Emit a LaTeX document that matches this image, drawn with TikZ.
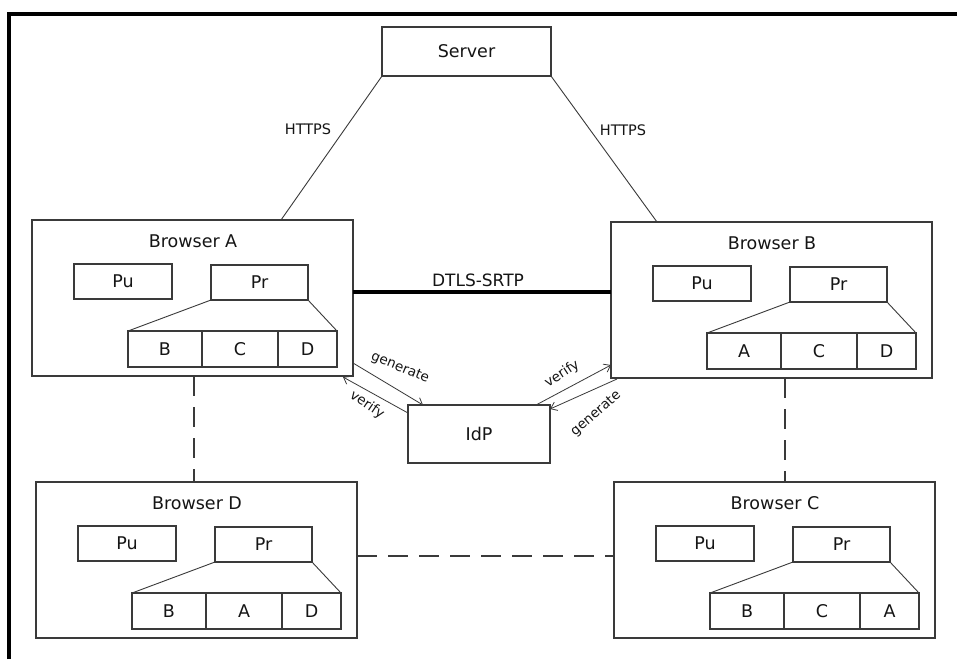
\documentclass[tikz,border=0pt]{standalone}
\usepackage{fontspec}
\setmainfont{DejaVu Sans}
\usetikzlibrary{arrows.meta,calc}
\definecolor{boxgray}{HTML}{3A3A3A}
\definecolor{txt}{HTML}{151515}
\tikzset{
  box/.style={draw=boxgray, line width=1.1pt, inner sep=0pt, outer sep=0pt, fill=white, text=txt, font=\fontsize{17.5}{19}\selectfont},
  lbl/.style={inner sep=0pt, text=txt, font=\fontsize{17.5}{19}\selectfont},
  dtlslbl/.style={inner sep=0pt, text=txt, font=\fontsize{17}{19}\selectfont},
  smalllbl/.style={inner sep=0pt, text=txt, font=\fontsize{14.5}{16}\selectfont},
  tinylbl/.style={inner sep=0pt, text=txt, font=\fontsize{13.5}{15}\selectfont},
  conn/.style={draw=boxgray, line width=0.9pt},
  dashconn/.style={draw=boxgray, line width=1.1pt, dash pattern=on 20pt off 11pt},
  arr/.style={draw=boxgray, line width=0.8pt, -{Straight Barb[length=6pt,width=9pt]}},
  dtlsline/.style={draw=black, line width=4pt},
  frameline/.style={draw=black, line width=3.2pt}
}
\newcommand{\mkbrowser}[7]{%
\begin{scope}[shift={(#2,#3)}]
\node[box, minimum width=321pt, minimum height=156pt] (#1) at (160.5,78) {};
\node[lbl] (#1-t) at (161,21) {#4};
\node[box, minimum width=98pt, minimum height=35pt] (#1-pu) at (91,61.5) {Pu};
\node[box, minimum width=97pt, minimum height=35pt] (#1-pr) at (227.5,62.5) {Pr};
\node[box, minimum width=74pt, minimum height=36pt] (#1-c1) at (133,129) {#5};
\node[box, minimum width=76pt, minimum height=36pt] (#1-c2) at (208,129) {#6};
\node[box, minimum width=59pt, minimum height=36pt] (#1-c3) at (275.5,129) {#7};
\draw[conn] (#1-pr.south west) -- (#1-c1.north west);
\draw[conn] (#1-pr.south east) -- (#1-c3.north east);
\end{scope}}
\begin{document}
\begin{tikzpicture}[x=1pt,y=-1pt]
\useasboundingbox (0,0) rectangle (957,659);
\fill[white] (0,0) rectangle (957,659);
\draw[frameline] (9,659) -- (9,14) -- (957,14);

\node[box, minimum width=169pt, minimum height=49pt] (server) at (466.5,51.5) {Server};
\mkbrowser{A}{32}{220}{Browser A}{B}{C}{D}
\mkbrowser{B}{611}{222}{Browser B}{A}{C}{D}
\mkbrowser{D}{36}{482}{Browser D}{B}{A}{D}
\mkbrowser{C}{614}{482}{Browser C}{B}{C}{A}
\node[box, minimum width=142pt, minimum height=58pt] (idp) at (479,434) {IdP};

% HTTPS links
\draw[conn] (server.south west) -- ($(A.north west)+(249,0)$);
\draw[conn] (server.south east) -- ($(B.north west)+(46,0)$);
\node[smalllbl] (https1) at (308,129) {HTTPS};
\node[smalllbl] (https2) at (623,130) {HTTPS};

% DTLS-SRTP
\draw[dtlsline] ($(A.north east)+(0,72)$) -- ($(B.north west)+(0,70)$);
\node[dtlslbl] (dtls) at (478,280) {DTLS-SRTP};

% dashed links
\draw[dashconn] ($(A.south)+(1.5,0)$) -- ($(D.north)+(-2.5,0)$);
\draw[dashconn] ($(B.south)+(13.5,0)$) -- ($(C.north)+(10.5,0)$);
\draw[dashconn] ($(D.east)+(0,-4)$) -- ($(C.west)+(0,-4)$);

% IdP arrows
\draw[arr] ($(A.south east)+(0,-13)$) -- ($(idp.north west)+(15,0)$);
\draw[arr] ($(idp.north west)+(0,8)$) -- ($(A.south east)+(-10,1)$);
\draw[arr] ($(idp.north east)+(-14,0)$) -- ($(B.south west)+(0,-13)$);
\draw[arr] ($(B.south west)+(6,1)$) -- ($(idp.north east)+(0,4)$);
\node[tinylbl, rotate=-22] (genA) at (400,368) {generate};
\node[tinylbl, rotate=-34] (verA) at (367,405) {verify};
\node[tinylbl, rotate=33] (verB) at (562,374) {verify};
\node[tinylbl, rotate=41] (genB) at (596,414) {generate};
\end{tikzpicture}
\end{document}
